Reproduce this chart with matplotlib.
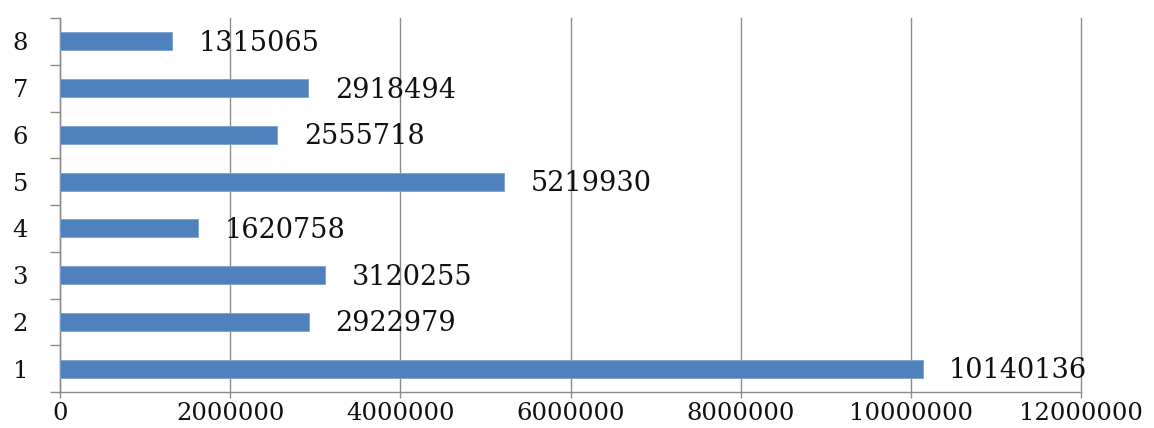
import numpy as np
import matplotlib.pyplot as plt
from matplotlib.ticker import FixedLocator

categories = ['1', '2', '3', '4', '5', '6', '7', '8']
values = [10140136, 2922979, 3120255, 1620758, 5219930, 2555718, 2918494, 1315065]
xticks = [0, 2000000, 4000000, 6000000, 8000000, 10000000, 12000000]

plt.rcParams['font.family'] = ['DejaVu Serif']
plt.rcParams['font.size'] = 18

fig = plt.figure(figsize=(11.54, 4.28), dpi=100)
ax = fig.add_axes([60/1154, 36/428, 1021/1154, 374/428])

y = np.arange(len(categories))
bars = ax.barh(y, values, height=0.39, color='#4F81BD', edgecolor='#7DA1CF', linewidth=0.6, zorder=3)

for yi, v in zip(y, values):
    ax.annotate(str(v), (v, yi), xytext=(19, -1.5), textcoords='offset points',
                va='center', ha='left', fontsize=19.5, color='#111111')

ax.set_xlim(0, 12000000)
ax.set_ylim(-0.5, len(categories) - 0.5)
ax.set_xticks(xticks)
ax.set_xticklabels([str(t) for t in xticks])
ax.set_yticks(y)
ax.set_yticklabels(categories)
ax.yaxis.set_minor_locator(FixedLocator(np.arange(-0.5, len(categories), 1)))

ax.grid(axis='x', color='#8c8c8c', linewidth=1.0, zorder=0)
ax.set_axisbelow(True)
for line in ax.get_xgridlines():
    line.set_clip_on(False)
for s in ['top', 'right']:
    ax.spines[s].set_visible(False)
for s in ['left', 'bottom']:
    ax.spines[s].set_color('#8c8c8c')
    ax.spines[s].set_linewidth(1.0)

ax.tick_params(axis='y', which='major', length=0, pad=23, labelsize=17.5, labelcolor='#111111')
ax.tick_params(axis='y', which='minor', length=7, color='#8c8c8c', width=1.0)
ax.tick_params(axis='x', which='major', length=4.5, color='#8c8c8c', width=1.0, pad=3,
               labelsize=17.5, labelcolor='#111111')

fig.savefig('out.png', dpi=100)
